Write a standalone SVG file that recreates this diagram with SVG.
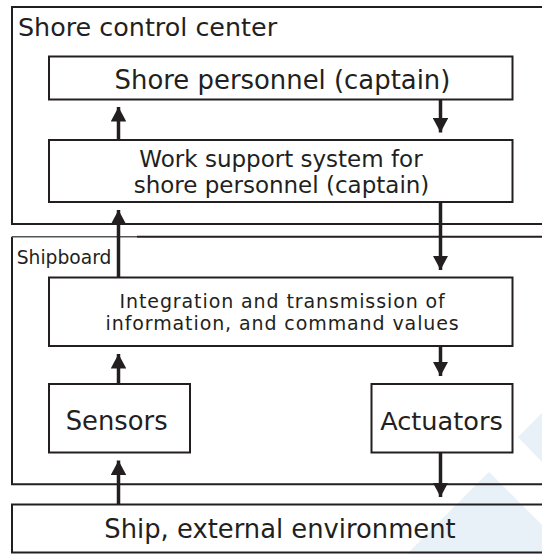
<svg xmlns="http://www.w3.org/2000/svg" width="542" height="554" viewBox="0 0 542 554">
  <style>
    .box { fill: none; stroke: #231f20; stroke-width: 2; }
    .frame { fill: none; stroke: #231f20; stroke-width: 2; }
    .t { font-family: "DejaVu Sans", Verdana, sans-serif; fill: #231f20; }
    .c { text-anchor: middle; }
    .conn { stroke: #231f20; stroke-width: 3.5; fill: none; marker-end: url(#ah); }
    .wm { fill: #e8f0f8; }
  </style>
  <defs>
    <marker id="ah" markerUnits="userSpaceOnUse" markerWidth="14.5" markerHeight="15.5" viewBox="0 0 14.5 15.5" refX="14.5" refY="7.75" orient="auto">
      <path d="M0,0 L14.5,7.75 L0,15.5 z" fill="#231f20"/>
    </marker>
  </defs>
  <rect width="542" height="554" fill="#ffffff"/>
  <!-- watermark -->
  <polygon class="wm" points="518,437 542,413 542,462"/>
  <polygon class="wm" points="489,472 542,525 542,554 407,554"/>

  <g id="shore-control-center">
    <rect class="frame" x="12" y="7" width="540" height="217"/>
    <text class="t" x="18" y="36" font-size="25.4">Shore control center</text>
  </g>
  <g id="shipboard">
    <path class="frame" d="M137,236.7 H552 M12,236.7 V484.3 H552"/>
    <path d="M12,236.7 H137" stroke="#555555" stroke-width="1.6"/>
    <text class="t" x="16.7" y="264.3" font-size="18.7">Shipboard</text>
  </g>
  <g id="ship-environment">
    <rect class="box" x="12" y="504.5" width="540" height="48"/>
    <text class="t c" x="280" y="537.5" font-size="25.8">Ship, external environment</text>
  </g>
  <g id="shore-personnel">
    <rect class="box" x="49" y="56.5" width="463.5" height="43"/>
    <text class="t c" x="282.5" y="89" font-size="25.9">Shore personnel (captain)</text>
  </g>
  <g id="work-support">
    <rect class="box" x="49" y="140" width="463.5" height="62"/>
    <text class="t c" x="281" y="166.5" font-size="23">Work support system for</text>
    <text class="t c" x="281.5" y="193.3" font-size="23">shore personnel (captain)</text>
  </g>
  <g id="integration">
    <rect class="box" x="49" y="277.5" width="463.5" height="68.5"/>
    <text class="t c" x="282.6" y="308.2" font-size="19" letter-spacing="0.9">Integration and transmission of</text>
    <text class="t c" x="282.6" y="330.4" font-size="19" letter-spacing="0.9">information, and command values</text>
  </g>
  <g id="sensors">
    <rect class="box" x="49" y="384" width="141" height="68.5"/>
    <text class="t c" x="116.7" y="429.5" font-size="25.8">Sensors</text>
  </g>
  <g id="actuators">
    <rect class="box" x="371.5" y="384" width="141" height="68.5"/>
    <text class="t c" x="441.5" y="429.5" font-size="25.6">Actuators</text>
  </g>

  <g id="connectors">
    <path class="conn" d="M118.5,140 V107"/>
    <path class="conn" d="M440.5,99.5 V132.5"/>
    <path class="conn" d="M118.5,277.5 V210"/>
    <path class="conn" d="M440.5,202 V270"/>
    <path class="conn" d="M118.5,384 V354"/>
    <path class="conn" d="M440.5,346 V376"/>
    <path class="conn" d="M118.5,504.5 V460.5"/>
    <path class="conn" d="M440.5,452.5 V497"/>
  </g>
</svg>
